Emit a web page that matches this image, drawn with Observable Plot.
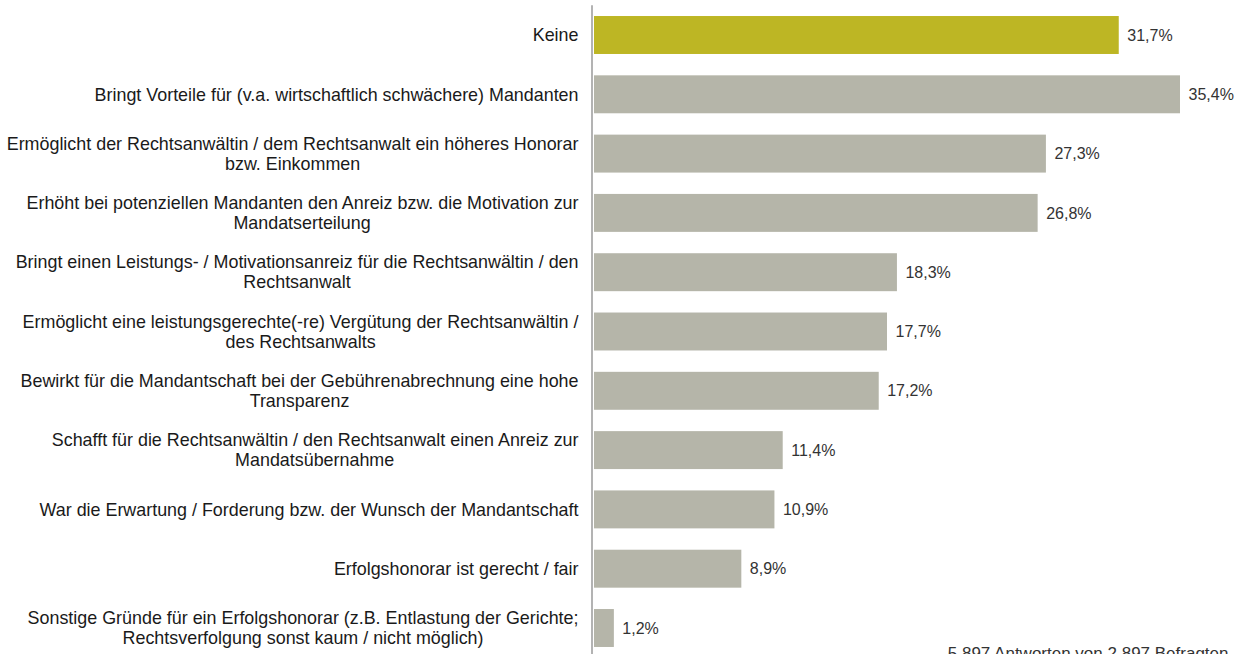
<!DOCTYPE html>
<html><head><meta charset="utf-8">
<script src="https://cdn.jsdelivr.net/npm/d3@7"></script>
<script src="https://cdn.jsdelivr.net/npm/@observablehq/plot@0.6"></script>
<style>body{margin:0;background:#fff;overflow:hidden}</style>
</head><body><div id="chart"></div>
<script>
const categories = [
  "Keine",
  "Bringt Vorteile für (v.a. wirtschaftlich schwächere) Mandanten",
  "Ermöglicht der Rechtsanwältin / dem Rechtsanwalt ein höheres Honorar\nbzw. Einkommen",
  "Erhöht bei potenziellen Mandanten den Anreiz bzw. die Motivation zur\nMandatserteilung",
  "Bringt einen Leistungs- / Motivationsanreiz für die Rechtsanwältin / den\nRechtsanwalt",
  "Ermöglicht eine leistungsgerechte(-re) Vergütung der Rechtsanwältin /\ndes Rechtsanwalts",
  "Bewirkt für die Mandantschaft bei der Gebührenabrechnung eine hohe\nTransparenz",
  "Schafft für die Rechtsanwältin / den Rechtsanwalt einen Anreiz zur\nMandatsübernahme",
  "War die Erwartung / Forderung bzw. der Wunsch der Mandantschaft",
  "Erfolgshonorar ist gerecht / fair",
  "Sonstige Gründe für ein Erfolgshonorar (z.B. Entlastung der Gerichte;\nRechtsverfolgung sonst kaum / nicht möglich)"
];
const values = [31.7, 35.4, 27.3, 26.8, 18.3, 17.7, 17.2, 11.4, 10.9, 8.9, 1.2];
const highlighted = ["Keine"];
const caption = "5.897 Antworten von 2.897 Befragten";
const valueLabels = values.map(v => v.toFixed(1).replace(".", ",") + "%");

const GOLD = "#bdb624", GREY = "#b5b5a9";
const FONT_FAMILY = "'Liberation Sans', Arial, sans-serif";
const LABEL_SIZE = 17.9;
const ctx = document.createElement("canvas").getContext("2d");
ctx.font = LABEL_SIZE + "px " + FONT_FAMILY;

const W = 1241, mL = 594, mR = 61, xMax = 35.4;
const pxPerUnit = (W - mL - mR) / xMax;
const gap = 16;

const rows = categories.map((c, i) => {
  const lines = c.split("\n");
  return {cat: c, value: values[i], label: valueLabels[i], l1: lines[0], l2: lines[1] || null,
          w1: ctx.measureText(lines[0]).width, fill: highlighted.includes(c) ? GOLD : GREY};
});

const chart = Plot.plot({
  width: W, height: 680,
  marginLeft: mL, marginRight: mR, marginTop: 5.35, marginBottom: 22.35,
  style: {fontFamily: FONT_FAMILY, fontSize: "16px", background: "#fff", overflow: "visible"},
  x: {domain: [0, xMax], axis: null},
  y: {domain: categories, axis: null, paddingInner: 0.36, paddingOuter: 0.18, round: false},
  color: {type: "identity"},
  marks: [
    Plot.barX(rows, {x: "value", y: "cat", fill: "fill"}),
    Plot.ruleX([0], {stroke: "#9a9a9a", strokeWidth: 1.5, dx: -2.5}),
    Plot.text(rows.filter(d => !d.l2), {x: 0, y: "cat", text: "l1", textAnchor: "end", dx: -gap, fill: "#1a1a1a", fontSize: LABEL_SIZE}),
    Plot.text(rows.filter(d => d.l2), {x: 0, y: "cat", text: "l1", textAnchor: "end", dx: -gap, dy: -10, fill: "#1a1a1a", fontSize: LABEL_SIZE}),
    Plot.text(rows.filter(d => d.l2), {x: d => -(gap + d.w1 / 2) / pxPerUnit, y: "cat", text: "l2", textAnchor: "middle", dy: 10, fill: "#1a1a1a", fontSize: LABEL_SIZE, clip: false}),
    Plot.text(rows, {x: "value", y: "cat", text: "label", textAnchor: "start", dx: 8, fill: "#333", fontSize: 16}),
    Plot.text([caption], {frameAnchor: "bottom-right", textAnchor: "end", lineAnchor: "bottom", dx: 48, dy: 1, fill: "#333", fontSize: 17})
  ]
});
document.getElementById("chart").appendChild(chart);
</script>
</body></html>
